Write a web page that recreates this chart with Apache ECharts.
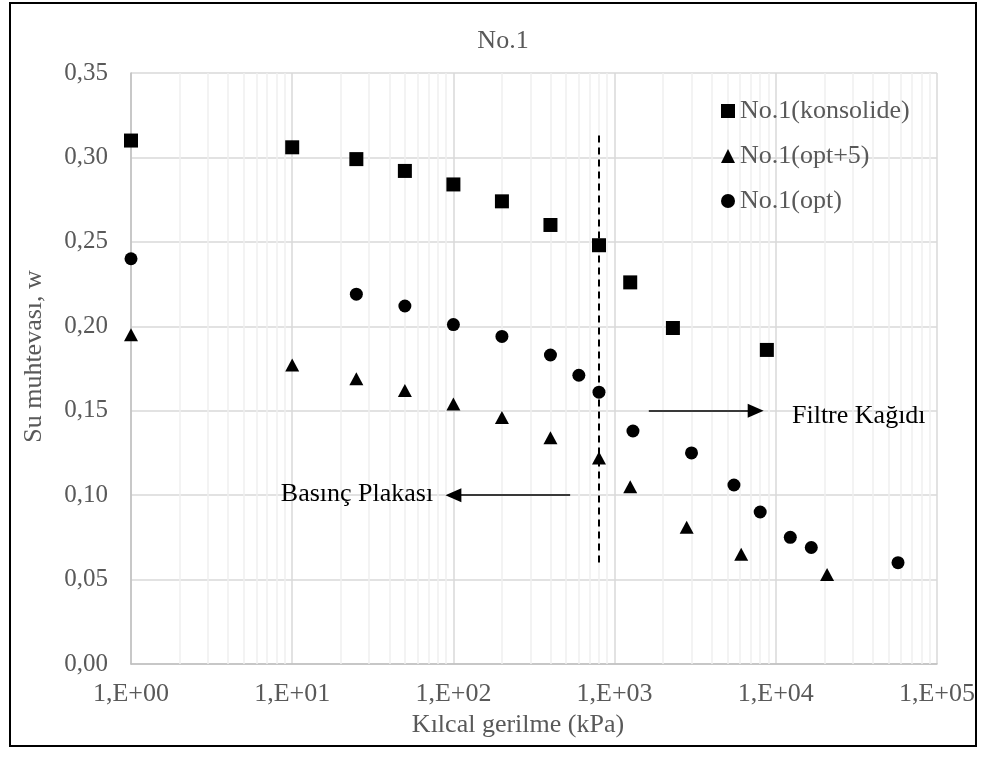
<!DOCTYPE html>
<html>
<head>
<meta charset="utf-8">
<script src="https://cdn.jsdelivr.net/npm/echarts@6/dist/echarts.min.js"></script>
<style>
  html, body { margin: 0; padding: 0; background: #fff; }
  #chart { width: 987px; height: 758px; }
</style>
</head>
<body>
<div id="chart"></div>
<script>
// veriler
const konsX = [1, 10, 25, 50, 100, 200, 400, 800, 1250, 2300, 8800];
const konsY = [0.310, 0.306, 0.299, 0.292, 0.284, 0.274, 0.260, 0.248, 0.226, 0.199, 0.186];

const opt5X = [1, 10, 25, 50, 100, 200, 400, 800, 1250, 2800, 6100, 20800];
const opt5Y = [0.195, 0.177, 0.169, 0.162, 0.154, 0.146, 0.134, 0.122, 0.105, 0.081, 0.065, 0.053];

const optX = [1, 25, 50, 100, 200, 400, 600, 800, 1300, 3000, 5500, 8000, 12300, 16600, 57300];
const optY = [0.240, 0.219, 0.212, 0.201, 0.194, 0.183, 0.171, 0.161, 0.138, 0.125, 0.106, 0.090, 0.075, 0.069, 0.060];

const seriesNames = ['No.1(konsolide)', 'No.1(opt+5)', 'No.1(opt)'];

// açıklamalar
const dashLine = [[800, 0.313], [800, 0.060]];
const rightArrow = [[1630, 0.150], [7500, 0.150]];
const leftArrow = [[530, 0.100], [100, 0.100]];
const filtreText = [12600, 0.147];
const basincText = [8.5, 0.1005];

const fontFam = "'Liberation Serif', 'Times New Roman', serif";
const gray = '#595959';

function pairs(xs, ys) {
  return xs.map((x, i) => [x, ys[i]]);
}

// log eksen için ara çizgiler (2..9)
const minorX = [];
for (let d = 1; d < 100000; d *= 10) {
  for (let m = 2; m <= 9; m++) minorX.push(d * m);
}

let chart = echarts.init(document.getElementById('chart'));
let option = {
  backgroundColor: '#fff',
  textStyle: { fontFamily: fontFam },
  title: {
    text: 'No.1',
    left: 498,
    top: 23,
    textAlign: 'center',
    textStyle: { fontFamily: fontFam, fontSize: 26, fontWeight: 'normal', color: gray }
  },
  legend: {
    data: seriesNames,
    orient: 'vertical',
    left: 716,
    top: 93,
    itemWidth: 14,
    itemHeight: 14,
    itemGap: 19,
    itemStyle: { opacity: 1 },
    textStyle: { fontFamily: fontFam, fontSize: 26, color: gray }
  },
  graphic: [{
    type: 'rect',
    shape: { x: 10, y: 3, width: 966, height: 743 },
    style: { fill: 'none', stroke: '#000', lineWidth: 2 },
    silent: true
  }],
  grid: { left: 131, right: 50, top: 73, bottom: 94 },
  xAxis: {
    type: 'log',
    logBase: 10,
    min: 1,
    max: 100000,
    name: 'Kılcal gerilme (kPa)',
    nameLocation: 'middle',
    nameGap: 46,
    nameTextStyle: { fontFamily: fontFam, fontSize: 26, color: gray, padding: [0, 32, 0, 0] },
    axisLine: { lineStyle: { color: '#bfbfbf', width: 1.5 } },
    axisTick: { show: false },
    axisLabel: {
      margin: 17,
      fontFamily: fontFam,
      fontSize: 26,
      color: gray,
      formatter: function (v) {
        let e = Math.round(Math.log10(v));
        return '1,E+' + (e < 10 ? '0' + e : e);
      }
    },
    splitLine: { show: true, lineStyle: { color: '#d9d9d9', width: 1.5 } }
  },
  yAxis: {
    type: 'value',
    min: 0,
    max: 0.35,
    interval: 0.05,
    name: 'Su muhtevası, w',
    nameLocation: 'middle',
    nameRotate: 90,
    nameGap: 84,
    nameTextStyle: { fontFamily: fontFam, fontSize: 26, color: gray, padding: [0, 0, 0, 24] },
    axisLine: { show: true, lineStyle: { color: '#bfbfbf', width: 1.5 } },
    axisTick: { show: false },
    axisLabel: {
      margin: 23,
      fontFamily: fontFam,
      fontSize: 25,
      color: gray,
      formatter: function (v) { return v.toFixed(2).replace('.', ','); }
    },
    splitLine: { show: true, lineStyle: { color: '#d9d9d9', width: 1.5 } }
  },
  series: [
    {
      // ara ızgara çizgileri ve açıklama okları
      name: 'annot',
      type: 'scatter',
      data: [],
      z: 1,
      silent: true,
      markLine: {
        silent: true,
        animation: false,
        z: 1,
        symbol: 'none',
        label: { show: false },
        data: [
          ...minorX.map(v => ({ xAxis: v, lineStyle: { color: '#efefef', width: 1.5, type: 'solid' } })),
          [
            { coord: dashLine[0], lineStyle: { color: '#000', width: 2, type: [7, 5] } },
            { coord: dashLine[1] }
          ],
          [
            { coord: rightArrow[0], symbol: 'none', lineStyle: { color: '#000', width: 1.5, type: 'solid' } },
            { coord: rightArrow[1], symbol: 'triangle', symbolSize: [14, 16] }
          ],
          [
            { coord: leftArrow[0], symbol: 'none', lineStyle: { color: '#000', width: 1.5, type: 'solid' } },
            { coord: leftArrow[1], symbol: 'triangle', symbolSize: [14, 16] }
          ]
        ]
      },
      markPoint: {
        silent: true,
        animation: false,
        z: 1,
        symbolSize: 0,
        label: {
          show: true,
          position: 'inside',
          align: 'left',
          verticalAlign: 'middle',
          fontFamily: fontFam,
          fontSize: 26,
          color: '#000'
        },
        data: [
          { coord: filtreText, value: 'Filtre Kağıdı', label: { formatter: 'Filtre Kağıdı' } },
          { coord: basincText, value: 'Basınç Plakası', label: { formatter: 'Basınç Plakası' } }
        ]
      }
    },
    {
      name: seriesNames[0],
      type: 'scatter',
      symbol: 'rect',
      symbolSize: 14,
      z: 3,
      itemStyle: { color: '#000', opacity: 1 },
      data: pairs(konsX, konsY)
    },
    {
      name: seriesNames[1],
      type: 'scatter',
      symbol: 'triangle',
      symbolSize: [14, 13],
      z: 3,
      itemStyle: { color: '#000', opacity: 1 },
      data: pairs(opt5X, opt5Y)
    },
    {
      name: seriesNames[2],
      type: 'scatter',
      symbol: 'circle',
      symbolSize: 13,
      z: 3,
      itemStyle: { color: '#000', opacity: 1 },
      data: pairs(optX, optY)
    }
  ]
};
chart.setOption(option);
</script>
</body>
</html>
